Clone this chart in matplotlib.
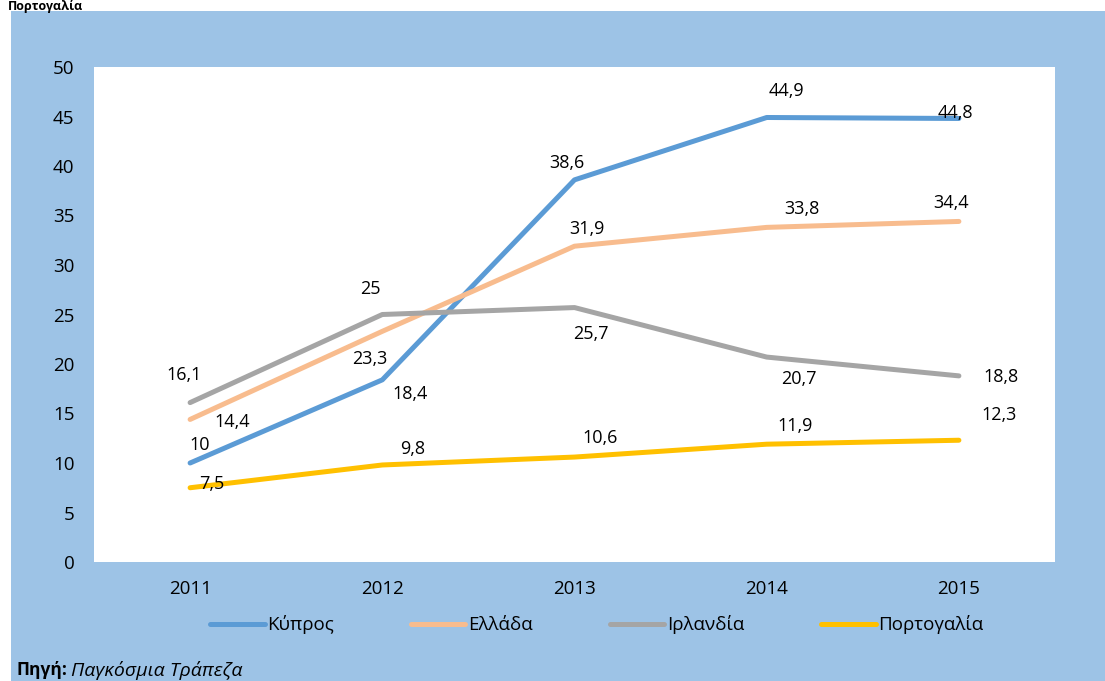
import matplotlib.pyplot as plt
from matplotlib.patches import Rectangle

plt.rcParams['font.family'] = ['Open Sans', 'DejaVu Sans']

years = ["2011", "2012", "2013", "2014", "2015"]
cyprus = [10, 18.4, 38.6, 44.9, 44.8]
greece = [14.4, 23.3, 31.9, 33.8, 34.4]
ireland = [16.1, 25, 25.7, 20.7, 18.8]
portugal = [7.5, 9.8, 10.6, 11.9, 12.3]

names = ["Κύπρος", "Ελλάδα", "Ιρλανδία", "Πορτογαλία"]
colors = ["#5B9BD5", "#F8BC8E", "#A5A5A5", "#FFC000"]

# label offsets in pixels (dx, dy) for each point
offs = {
    0: [(10, 18), (28, -14), (-8, 17), (20, 26), (-4, 5)],
    1: [(42, -3), (-12, -28), (12, 17), (35, 18), (-8, 18)],
    2: [(-6, 28), (-12, 26), (16, -26), (32, -22), (42, -1)],
    3: [(22, 4), (30, 16), (26, 19), (28, 18), (40, 25)],
}

W, H = 1105, 681
fig = plt.figure(figsize=(W / 100, H / 100), dpi=100)
fig.patch.set_facecolor("white")
fig.patches.append(Rectangle((11 / W, 0), 1 - 11 / W, (H - 11) / H,
                             transform=fig.transFigure, facecolor="#9DC3E6",
                             edgecolor="none", zorder=-10))

ax = fig.add_axes([94 / W, (H - 562) / H, 961 / W, 495 / H])
ax.set_facecolor("white")

x = list(range(len(years)))
series = [cyprus, greece, ireland, portugal]
for i, vals in enumerate(series):
    ax.plot(x, vals, color=colors[i], linewidth=3.6, label=names[i],
            solid_capstyle="round")
    for j, v in enumerate(vals):
        txt = ("%g" % v).replace(".", ",")
        ax.annotate(txt, (x[j], v), xytext=offs[i][j], textcoords="offset pixels",
                    ha="center", va="center", fontsize=13, color="#000000")

ax.set_xlim(-0.5, 4.5)
ax.set_ylim(0, 50)
ax.set_yticks(range(0, 51, 5))
ax.set_xticks(x)
ax.set_xticklabels(years)
ax.tick_params(length=0, labelsize=13.5)
ax.tick_params(axis="x", pad=13)
ax.tick_params(axis="y", pad=14)
for s in ax.spines.values():
    s.set_visible(False)

leg = fig.legend(loc="center", bbox_to_anchor=(597 / W, (H - 625) / H), ncol=4,
                 frameon=False, fontsize=13.5, handlelength=2.9, handletextpad=0.15,
                 columnspacing=4.1)

fig.text(8 / W, 1.0, "Πορτογαλία", fontsize=9, fontweight="bold",
         ha="left", va="top")
fig.text(16 / W, (H - 670) / H, "Πηγή:", fontsize=12.5, fontweight="bold",
         ha="left", va="center")
fig.text(71 / W, (H - 670) / H, "Παγκόσμια Τράπεζα", fontsize=14,
         style="italic", ha="left", va="center")

fig.savefig("out.png", dpi=100)
